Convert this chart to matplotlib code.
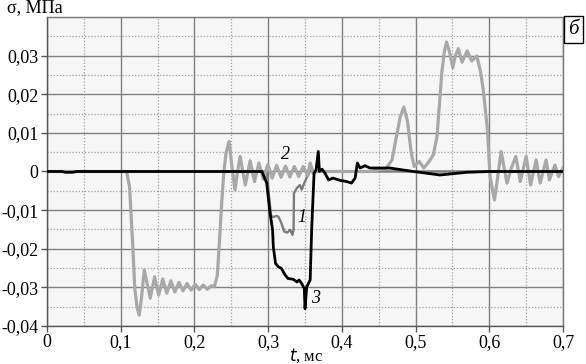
import numpy as np
import matplotlib.pyplot as plt
from matplotlib.ticker import MultipleLocator, FuncFormatter

# curve 2 (light grey)
t2 = [0.0, 0.05, 0.108, 0.112, 0.116, 0.119, 0.122, 0.125, 0.128, 0.132,
      0.140, 0.146, 0.1515, 0.157, 0.1625, 0.168, 0.1735, 0.179, 0.1845, 0.190,
      0.1955, 0.201, 0.2065, 0.212, 0.2175, 0.223, 0.227, 0.231, 0.234, 0.237,
      0.240, 0.243, 0.247, 0.251, 0.255, 0.2585, 0.262, 0.2655, 0.269, 0.2755,
      0.2815, 0.2875, 0.2935, 0.2995, 0.3055, 0.3115, 0.3175, 0.3235, 0.3295, 0.3355,
      0.3415, 0.3475, 0.3535, 0.357, 0.361, 0.365, 0.40, 0.44, 0.46, 0.468,
      0.474, 0.479, 0.484, 0.489, 0.494, 0.498, 0.505, 0.511, 0.518, 0.524,
      0.529, 0.533, 0.5355, 0.539, 0.542, 0.546, 0.5505, 0.554, 0.558, 0.563,
      0.567, 0.570, 0.576, 0.583, 0.588, 0.592, 0.5975, 0.601, 0.607, 0.611,
      0.616, 0.620, 0.624, 0.630, 0.636, 0.642, 0.650, 0.656, 0.6635, 0.669,
      0.677, 0.6815, 0.689, 0.694, 0.700]
s2 = [0.0, 0.0, 0.0, -0.004, -0.018, -0.030, -0.035, -0.0372, -0.033, -0.0255,
      -0.0328, -0.0273, -0.0320, -0.0278, -0.0315, -0.0283, -0.0312, -0.0287, -0.0309, -0.0290,
      -0.0307, -0.0292, -0.0306, -0.0294, -0.0305, -0.0296, -0.0298, -0.027, -0.018, -0.008,
      0.000, 0.005, 0.0078, 0.001, -0.0048, 0.0, 0.0039, 0.0, -0.0035, 0.0028,
      -0.0026, 0.0022, -0.0020, 0.0018, -0.0017, 0.0016, -0.0015, 0.0014, -0.0014, 0.0013,
      -0.0013, 0.0013, -0.0010, 0.0022, -0.0005, 0.0, 0.0, 0.0, 0.0008, 0.003,
      0.009, 0.014, 0.0167, 0.013, 0.005, 0.0013, 0.0026, 0.0009, 0.0025, 0.0043,
      0.009, 0.019, 0.0255, 0.031, 0.0335, 0.031, 0.0269, 0.030, 0.0318, 0.0283,
      0.030, 0.0312, 0.0286, 0.0299, 0.026, 0.0208, 0.0108, -0.0013, -0.0074, -0.002,
      0.0052, 0.001, -0.003, 0.001, 0.0039, -0.0026, 0.0039, -0.0035, 0.003, -0.003,
      0.003, -0.0022, 0.0017, -0.0013, 0.001]

# curve 1 (mid grey)
t1 = [0.0, 0.298, 0.301, 0.304, 0.307, 0.311, 0.314, 0.318, 0.322, 0.326,
      0.3297, 0.333, 0.3345, 0.335, 0.339, 0.343, 0.3455, 0.349, 0.352, 0.3555,
      0.358, 0.362, 0.40, 0.70]
s1 = [0.0, 0.0, -0.006, -0.0115, -0.0118, -0.0115, -0.0117, -0.0134, -0.0156, -0.0158,
      -0.0151, -0.0164, -0.0150, -0.0056, -0.0043, -0.0035, -0.0047, -0.003, -0.0017, -0.0004,
      0.001, 0.0, 0.0, 0.0]

# curve 3 (black)
t3 = [0.0, 0.02, 0.025, 0.035, 0.04, 0.29, 0.2915, 0.298, 0.3026, 0.306,
      0.307, 0.310, 0.314, 0.318, 0.323, 0.327, 0.334, 0.339, 0.342, 0.3455,
      0.349, 0.350, 0.3523, 0.3546, 0.357, 0.359, 0.3623, 0.365, 0.368, 0.3695,
      0.373, 0.377, 0.382, 0.388, 0.3975, 0.4066, 0.413, 0.418, 0.421, 0.4247,
      0.4315, 0.438, 0.465, 0.497, 0.533, 0.57, 0.60, 0.70]
s3 = [0.0, 0.0, -0.0002, -0.0002, 0.0, 0.0, 0.0, -0.003, -0.0108, -0.0151,
      -0.0195, -0.0238, -0.0247, -0.0251, -0.0268, -0.0277, -0.0279, -0.0286, -0.0281, -0.029,
      -0.0303, -0.0355, -0.0299, -0.029, -0.0281, -0.0151, -0.0004, 0.0004, 0.0052, 0.0,
      0.0006, -0.0004, -0.0022, -0.0017, -0.0023, -0.0026, -0.003, -0.0017, 0.0022, 0.0009,
      0.0015, 0.0009, 0.0009, 0.0, -0.0009, -0.0002, 0.0, 0.0]

plt.rcParams['font.family'] = ['Liberation Serif', 'DejaVu Serif']

fig = plt.figure(figsize=(5.86, 3.64), dpi=100)
ax = fig.add_axes([0.0802, 0.1044, 0.8806, 0.8489])
ax.set_facecolor('#f6f6f6')

ax.plot(t1, s1, color='#7c7c7c', lw=1.7, zorder=3, solid_joinstyle='round')
ax.plot(t2, s2, color='#a8a8a8', lw=2.3, zorder=4, solid_joinstyle='round')
ax.plot(t3, s3, color='black', lw=2.0, zorder=5, solid_joinstyle='round')

ax.set_xlim(0, 0.7)
ax.set_ylim(-0.04, 0.04)
ax.xaxis.set_major_locator(MultipleLocator(0.1))
ax.xaxis.set_minor_locator(MultipleLocator(0.05))
ax.yaxis.set_major_locator(MultipleLocator(0.01))
ax.yaxis.set_minor_locator(MultipleLocator(0.005))

def comma(v, pos):
    if abs(v) < 1e-9:
        return '0'
    return ('%g' % round(v, 3)).replace('.', ',')

ax.xaxis.set_major_formatter(FuncFormatter(comma))
ax.yaxis.set_major_formatter(FuncFormatter(comma))
ax.set_yticks(np.arange(-0.04, 0.031, 0.01))

ax.grid(which='major', color='#808080', lw=1.0, ls='-', zorder=1)
ax.grid(which='minor', color='#a0a0a0', lw=0.9, ls=(0, (1, 1.5)), zorder=1)
ax.tick_params(which='major', direction='out', length=4, width=1, color='#555555',
               labelsize=13, pad=2)
ax.tick_params(which='minor', length=0)
for sp in ax.spines.values():
    sp.set_color('#777777')
    sp.set_linewidth(1.0)
ax.spines['left'].set_color('#555555')
ax.spines['bottom'].set_color('#555555')

ax.text(0.324, 0.0045, '2', fontsize=13, style='italic', ha='center', va='center', zorder=6)
ax.text(0.3455, -0.0118, '1', fontsize=13, style='italic', ha='center', va='center', zorder=6)
ax.text(0.364, -0.0328, '3', fontsize=13, style='italic', ha='center', va='center', zorder=6)

fig.text(0.012, 0.978, '\u03c3, МПа', fontsize=13, ha='left', va='center')
fig.text(0.522, 0.022, '$t$, мс', fontsize=12, ha='center', va='center')
fig.text(0.979, 0.919, 'б', fontsize=15, style='italic', ha='center', va='center',
         bbox=dict(boxstyle='square,pad=0.2', fc='white', ec='black', lw=1.0))

fig.savefig('out.png', dpi=100)
